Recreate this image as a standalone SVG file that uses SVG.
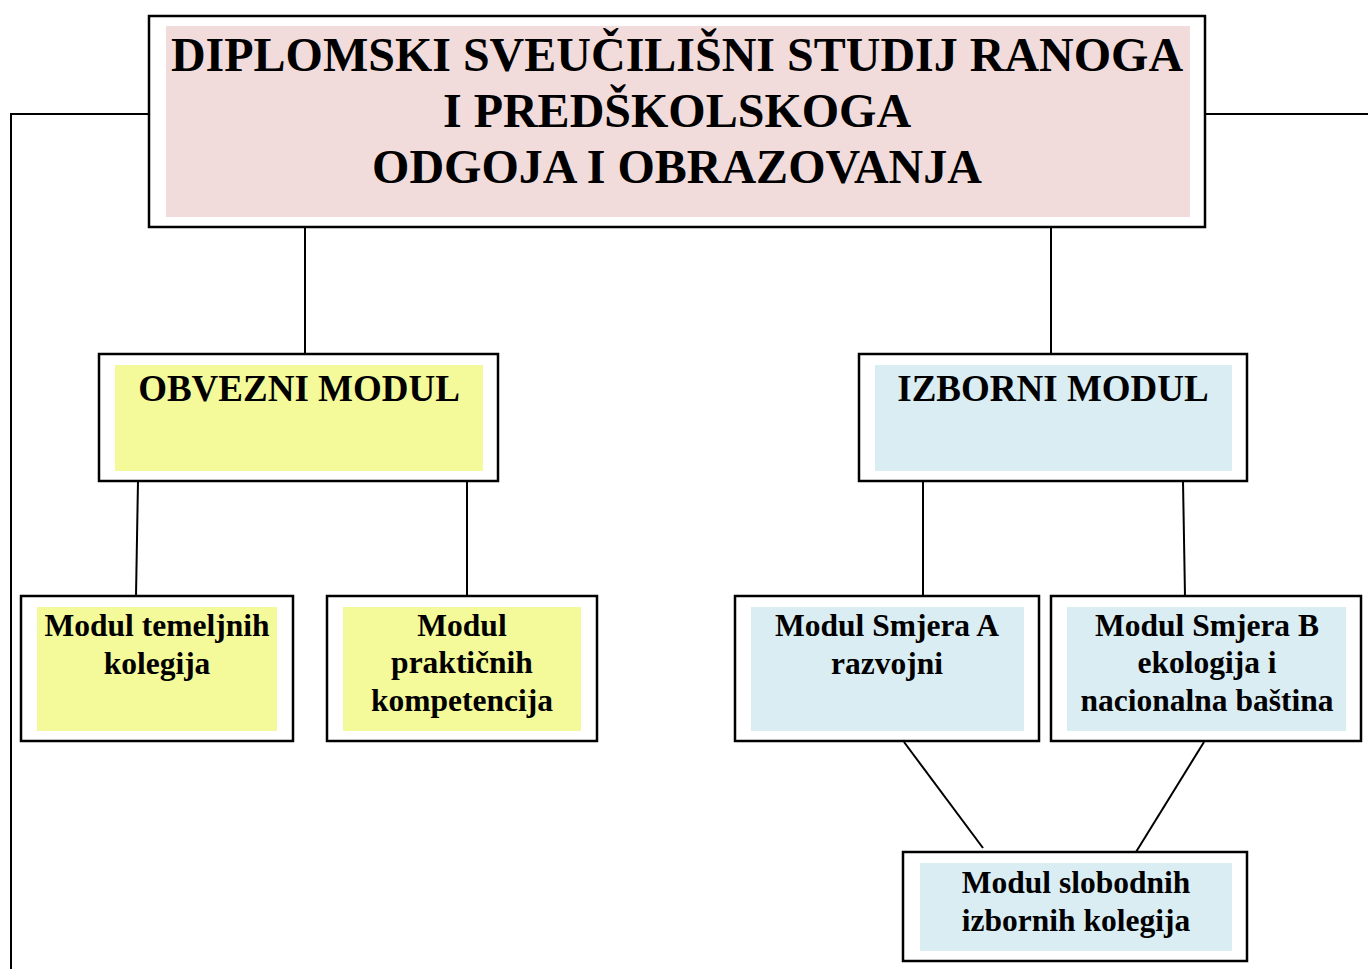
<svg xmlns="http://www.w3.org/2000/svg" width="1368" height="969" viewBox="0 0 1368 969">
<style>
.frame{fill:#ffffff;stroke:#000;stroke-width:2.5}
.pink{fill:#f2dcdb}
.yellow{fill:#f4f99a}
.blue{fill:#daedf3}
.conn{stroke:#000;stroke-width:2;fill:none}
text{font-family:"Liberation Serif","Times New Roman",serif;font-weight:bold;fill:#000;text-anchor:middle}
.t1{font-size:48px}
.t2{font-size:37px}
.t3{font-size:31.5px}
</style>
<rect width="1368" height="969" fill="#ffffff"/>
<g id="connectors">
<polyline class="conn" points="149,114 11,114 11,969"/>
<line class="conn" x1="1205" y1="114" x2="1368" y2="114"/>
<line class="conn" x1="305" y1="227" x2="305" y2="354"/>
<line class="conn" x1="1051" y1="227" x2="1051" y2="354"/>
<line class="conn" x1="138" y1="481" x2="136" y2="596"/>
<line class="conn" x1="467" y1="481" x2="467" y2="596"/>
<line class="conn" x1="923" y1="481" x2="923" y2="596"/>
<line class="conn" x1="1183" y1="481" x2="1185" y2="596"/>
<line class="conn" x1="904" y1="742" x2="983" y2="848"/>
<line class="conn" x1="1204" y1="742" x2="1136" y2="852"/>
</g>
<g id="root">
<rect class="frame" x="149" y="16" width="1056" height="211"/>
<rect class="pink" x="166" y="26" width="1024" height="191"/>
<text class="t1" x="677" y="71">DIPLOMSKI SVEUČILIŠNI STUDIJ RANOGA</text>
<text class="t1" x="677" y="127">I PREDŠKOLSKOGA</text>
<text class="t1" x="677" y="183">ODGOJA I OBRAZOVANJA</text>
</g>
<g id="obvezni">
<rect class="frame" x="99" y="354" width="399" height="127"/>
<rect class="yellow" x="115" y="365" width="368" height="106"/>
<text class="t2" x="299" y="401">OBVEZNI MODUL</text>
</g>
<g id="izborni">
<rect class="frame" x="859" y="354" width="388" height="127"/>
<rect class="blue" x="875" y="365" width="357" height="106"/>
<text class="t2" x="1053" y="401">IZBORNI MODUL</text>
</g>
<g id="temeljni">
<rect class="frame" x="21" y="596" width="272" height="145"/>
<rect class="yellow" x="37" y="607" width="240" height="124"/>
<text class="t3" x="157" y="636">Modul temeljnih</text>
<text class="t3" x="157" y="674">kolegija</text>
</g>
<g id="prakticni">
<rect class="frame" x="327" y="596" width="270" height="145"/>
<rect class="yellow" x="343" y="607" width="238" height="124"/>
<text class="t3" x="462" y="636">Modul</text>
<text class="t3" x="462" y="673">praktičnih</text>
<text class="t3" x="462" y="711">kompetencija</text>
</g>
<g id="smjerA">
<rect class="frame" x="735" y="596" width="304" height="145"/>
<rect class="blue" x="751" y="607" width="273" height="124"/>
<text class="t3" x="887" y="636">Modul Smjera A</text>
<text class="t3" x="887" y="674">razvojni</text>
</g>
<g id="smjerB">
<rect class="frame" x="1051" y="596" width="310" height="145"/>
<rect class="blue" x="1067" y="607" width="279" height="124"/>
<text class="t3" x="1207" y="636">Modul Smjera B</text>
<text class="t3" x="1207" y="673">ekologija i</text>
<text class="t3" x="1207" y="711">nacionalna baština</text>
</g>
<g id="slobodni">
<rect class="frame" x="903" y="852" width="344" height="109"/>
<rect class="blue" x="920" y="863" width="312" height="88"/>
<text class="t3" x="1076" y="893">Modul slobodnih</text>
<text class="t3" x="1076" y="931">izbornih kolegija</text>
</g>
</svg>
